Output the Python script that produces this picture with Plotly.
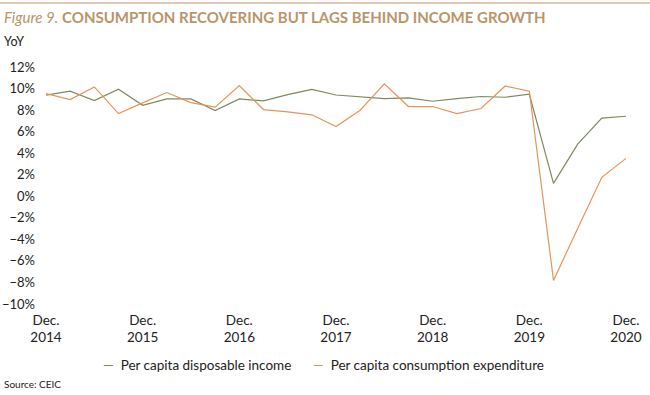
import plotly.graph_objects as go

quarters = list(range(25))  # Dec 2014 .. Dec 2020, quarterly
tick_vals = [0, 4, 8, 12, 16, 20, 24]
tick_text = ["Dec.<br>2014", "Dec.<br>2015", "Dec.<br>2016", "Dec.<br>2017",
             "Dec.<br>2018", "Dec.<br>2019", "Dec.<br>2020"]

income = [9.38, 9.75, 8.89, 9.93, 8.45, 9.04, 9.04, 7.96, 9.04, 8.85, 9.44, 9.93, 9.4,
          9.22, 9.07, 9.13, 8.82, 9.07, 9.26, 9.19, 9.47, 1.2, 4.84, 7.25, 7.43]
consumption = [9.53, 8.98, 10.15, 7.68, 8.67, 9.63, 8.70, 8.27, 10.27, 8.05, 7.84, 7.56, 6.48,
               7.99, 10.43, 8.33, 8.33, 7.68, 8.15, 10.24, 9.75, -7.81, -3.0, 1.76, 3.52]

GREEN = "#7b8b5f"
ORANGE = "#e8935a"
TAN = "#b8956a"
FONT = "Lato"

fig = go.Figure()
fig.add_trace(go.Scatter(x=quarters, y=income, mode="lines", name="Per capita disposable income",
                         line=dict(color=GREEN, width=1.2), showlegend=False))
fig.add_trace(go.Scatter(x=quarters, y=consumption, mode="lines", name="Per capita consumption expenditure",
                         line=dict(color=ORANGE, width=1.2), showlegend=False))

L, R, T, B = 46, 24, 67, 91
W, H = 650, 395
pw, ph = W - L - R, H - T - B

def px_x(x):
    return (x - L) / pw

def px_y(y):
    return (H - B - y) / ph

fig.update_layout(
    template="none",
    width=W, height=H,
    margin=dict(l=L, r=R, t=T, b=B, autoexpand=False),
    paper_bgcolor="white", plot_bgcolor="white",
    font=dict(family=FONT, size=12.5, color="#222222"),
    xaxis=dict(range=[0, 24], tickvals=tick_vals, ticktext=tick_text, showgrid=False,
               zeroline=False, showline=False, ticks="", tickfont=dict(size=13.5),
               ticklabelstandoff=6, automargin=False),
    yaxis=dict(range=[-10, 12], dtick=2, ticksuffix="%", showgrid=False, zeroline=False,
               showline=False, ticks="", tickfont=dict(size=13), ticklabelstandoff=10,
               automargin=False),
    shapes=[dict(type="line", xref="paper", yref="paper", x0=px_x(0), x1=px_x(W),
                 y0=px_y(3), y1=px_y(3), line=dict(color=TAN, width=1))],
    annotations=[
        dict(xref="paper", yref="paper", x=px_x(2), y=px_y(17), xanchor="left", yanchor="middle",
             showarrow=False,
             text="<i>Figure 9.</i> <b>CONSUMPTION RECOVERING BUT LAGS BEHIND INCOME GROWTH</b>",
             font=dict(size=15, color=TAN, family=FONT)),
        dict(xref="paper", yref="paper", x=px_x(2), y=px_y(42), xanchor="left", yanchor="middle",
             showarrow=False, text="YoY", font=dict(size=12.5, color="#222222")),
        dict(xref="paper", yref="paper", x=px_x(101), y=px_y(365), xanchor="left", yanchor="middle",
             showarrow=False,
             text=f"<span style='color:{GREEN}'>—</span>  Per capita disposable income",
             font=dict(size=13.5, color="#222222")),
        dict(xref="paper", yref="paper", x=px_x(311), y=px_y(365), xanchor="left", yanchor="middle",
             showarrow=False,
             text=f"<span style='color:{ORANGE}'>—</span>  Per capita consumption expenditure",
             font=dict(size=13.5, color="#222222")),
        dict(xref="paper", yref="paper", x=px_x(2), y=px_y(384), xanchor="left", yanchor="middle",
             showarrow=False, text="Source: CEIC", font=dict(size=10, color="#222222")),
    ],
)

fig.write_html("out.html", config={"displayModeBar": False},
               post_script="document.body.style.margin='0';document.body.style.overflow='hidden';")
